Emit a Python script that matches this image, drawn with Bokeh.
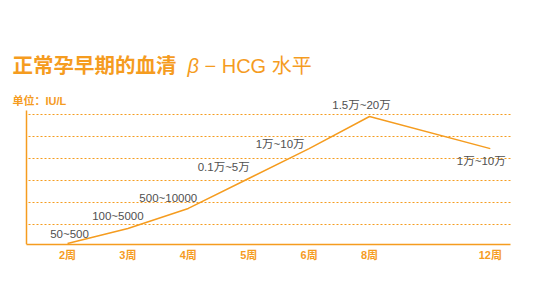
from bokeh.plotting import figure
from bokeh.models import ColumnDataSource, LabelSet, Label, FixedTicker, Grid, LinearAxis
from bokeh.core.properties import value
from bokeh.embed import file_html
from bokeh.resources import INLINE

# ---- data ----
weeks = ["2周", "3周", "4周", "5周", "6周", "8周", "12周"]
slots = [0, 1, 2, 3, 4, 5, 7]          # category slot on the x axis (one empty slot before 12周)
levels = [0.14, 0.82, 1.73, 3.09, 4.45, 5.91, 4.45]   # relative height of the curve
ranges = ["50~500", "100~5000", "500~10000", "0.1万~5万", "1万~10万", "1.5万~20万", "1万~10万"]
grid_levels = [1, 2, 3, 4, 5, 6]

# ---- label placement (style) ----
lab_dx = [2, -10, -20, -25, -29, -8, -9]
lab_dy = [9, 12, 10, 12, 5, 11, -12]

ORANGE = "#F59C1F"
GRAY = "#505050"
FONT = "Liberation Sans, 'Noto Sans CJK SC'"

W, H = 537, 284
BOTTOM = 40
# layout: pixel helpers (frame spans the whole width, from top down to the x axis)
X0PX, XSTEP = 67.0, 60.4
Y0PX, YSTEP = 246.0, 22.0
def dx(px):
    return (px - X0PX) / XSTEP
def dy(py):
    return (Y0PX - py) / YSTEP

src = ColumnDataSource(dict(x=slots, y=levels, txt=ranges, dx=lab_dx, dy=lab_dy))

p = figure(width=W, height=H, output_backend="svg", toolbar_location=None,
           x_range=(dx(0), dx(W)), y_range=(dy(H - BOTTOM), dy(0)),
           y_axis_location=None,
           min_border_left=0, min_border_right=0, min_border_top=0, min_border_bottom=BOTTOM)
p.outline_line_color = None
p.background_fill_color = "white"
p.border_fill_color = "white"
p.grid.visible = False

# x axis
p.xaxis.ticker = FixedTicker(ticks=slots)
p.xaxis.major_label_overrides = {s: w for s, w in zip(slots, weeks)}
p.xaxis.major_tick_line_color = None
p.xaxis.minor_tick_line_color = None
p.xaxis.major_tick_out = 0
p.xaxis.major_tick_in = 0
p.xaxis.minor_tick_out = 0
p.xaxis.axis_line_color = ORANGE
p.xaxis.axis_line_width = 1.5
p.xaxis.bounds = (dx(26), dx(510))
p.xaxis.major_label_text_color = ORANGE
p.xaxis.major_label_text_font = FONT
p.xaxis.major_label_text_font_size = "11px"
p.xaxis.major_label_text_font_style = "bold"
p.xaxis.major_label_standoff = 4

# y axis (line only), fixed at the left edge of the plotting area
yax = LinearAxis(fixed_location=dx(26), bounds=(dy(244), dy(110)),
                 ticker=FixedTicker(ticks=grid_levels),
                 major_label_text_font_size="0px", major_label_text_color=None,
                 major_tick_line_color=None, minor_tick_line_color=None,
                 major_tick_out=0, major_tick_in=0, minor_tick_out=0, minor_tick_in=0,
                 major_label_standoff=0,
                 axis_line_color=ORANGE, axis_line_width=1.5)
p.add_layout(yax, "left")

hgrid = Grid(dimension=1, ticker=FixedTicker(ticks=grid_levels), cross_bounds=(dx(28), dx(510)),
             grid_line_color=ORANGE, grid_line_dash="2 2", grid_line_width=1)
p.add_layout(hgrid)

p.line("x", "y", source=src, line_color=ORANGE, line_width=1.5)

labels = LabelSet(x="x", y="y", text="txt", source=src, x_offset="dx", y_offset="dy",
                  text_align="center", text_baseline="middle",
                  text_font=value(FONT), text_font_size="11.5px", text_color=GRAY)
p.add_layout(labels)

# title pieces and unit
def lab(px, py, text, size, style):
    return Label(x=dx(px), y=dy(py), text=text, text_font=FONT, text_font_size=size,
                 text_font_style=style, text_color=ORANGE, text_baseline="middle")
p.add_layout(lab(12, 65, "正常孕早期的血清", "20.5px", "bold"))
p.add_layout(lab(187, 65, "β", "20px", "italic"))
p.add_layout(lab(204, 65, "− HCG 水平", "20px", "normal"))
p.add_layout(lab(12, 100, "单位：IU/L", "11px", "bold"))

open("out.html", "w").write(file_html(p, INLINE))
